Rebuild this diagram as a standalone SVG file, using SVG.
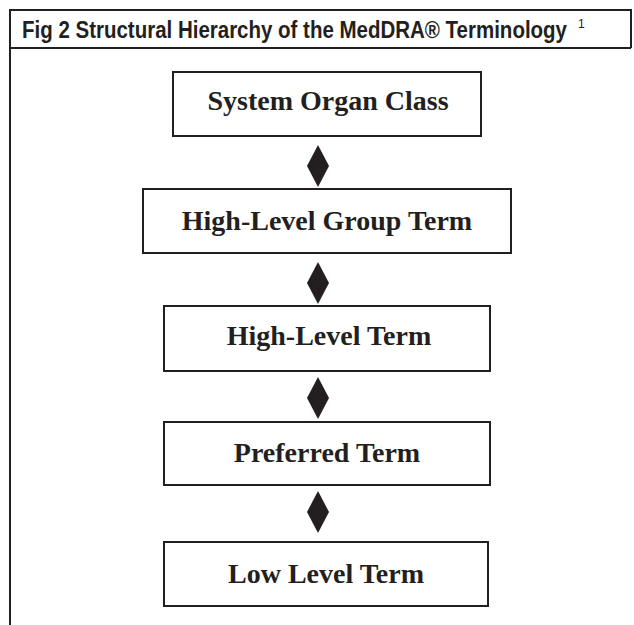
<svg xmlns="http://www.w3.org/2000/svg" width="634" height="625" viewBox="0 0 634 625">
<style>
.frame{fill:none;stroke:#231f20;stroke-width:2}
.box{fill:#fff;stroke:#231f20;stroke-width:2}
.lbl{font-family:"Liberation Serif",serif;font-weight:bold;font-size:28px;fill:#231f20;text-anchor:middle}
.hdr{font-family:"Liberation Sans Narrow","Liberation Sans",sans-serif;font-weight:bold;font-size:23px;fill:#231f20}
.sup{font-size:12px;font-weight:normal}
.dia{fill:#231f20}
</style>
<rect x="0" y="0" width="634" height="625" fill="#fff"/>
<g id="frame">
<path class="frame" d="M10 625 V10 H631 V48"/>
<line class="frame" x1="10" y1="48" x2="631" y2="48"/>
<text class="hdr" x="22" y="38"><tspan textLength="545" lengthAdjust="spacingAndGlyphs">Fig 2 Structural Hierarchy of the MedDRA® Terminology</tspan><tspan class="sup" x="578" y="28">1</tspan></text>
</g>
<g id="connectors">
<path class="dia" d="M318 145 L329 166 L318 187 L307 166 Z"/>
<path class="dia" d="M318 262 L329 283 L318 304 L307 283 Z"/>
<path class="dia" d="M318 377 L329 398 L318 419 L307 398 Z"/>
<path class="dia" d="M318 491 L329 512 L318 533 L307 512 Z"/>
</g>
<g id="soc"><rect class="box" x="173" y="72" width="308" height="64"/><text class="lbl" x="328" y="110">System Organ Class</text></g>
<g id="hlgt"><rect class="box" x="143" y="189" width="368" height="64"/><text class="lbl" x="327" y="230">High-Level Group Term</text></g>
<g id="hlt"><rect class="box" x="164" y="306" width="326" height="65"/><text class="lbl" x="329" y="345">High-Level Term</text></g>
<g id="pt"><rect class="box" x="164" y="422" width="326" height="63"/><text class="lbl" x="327" y="462">Preferred Term</text></g>
<g id="llt"><rect class="box" x="164" y="542" width="324" height="64"/><text class="lbl" x="326" y="583">Low Level Term</text></g>
</svg>
